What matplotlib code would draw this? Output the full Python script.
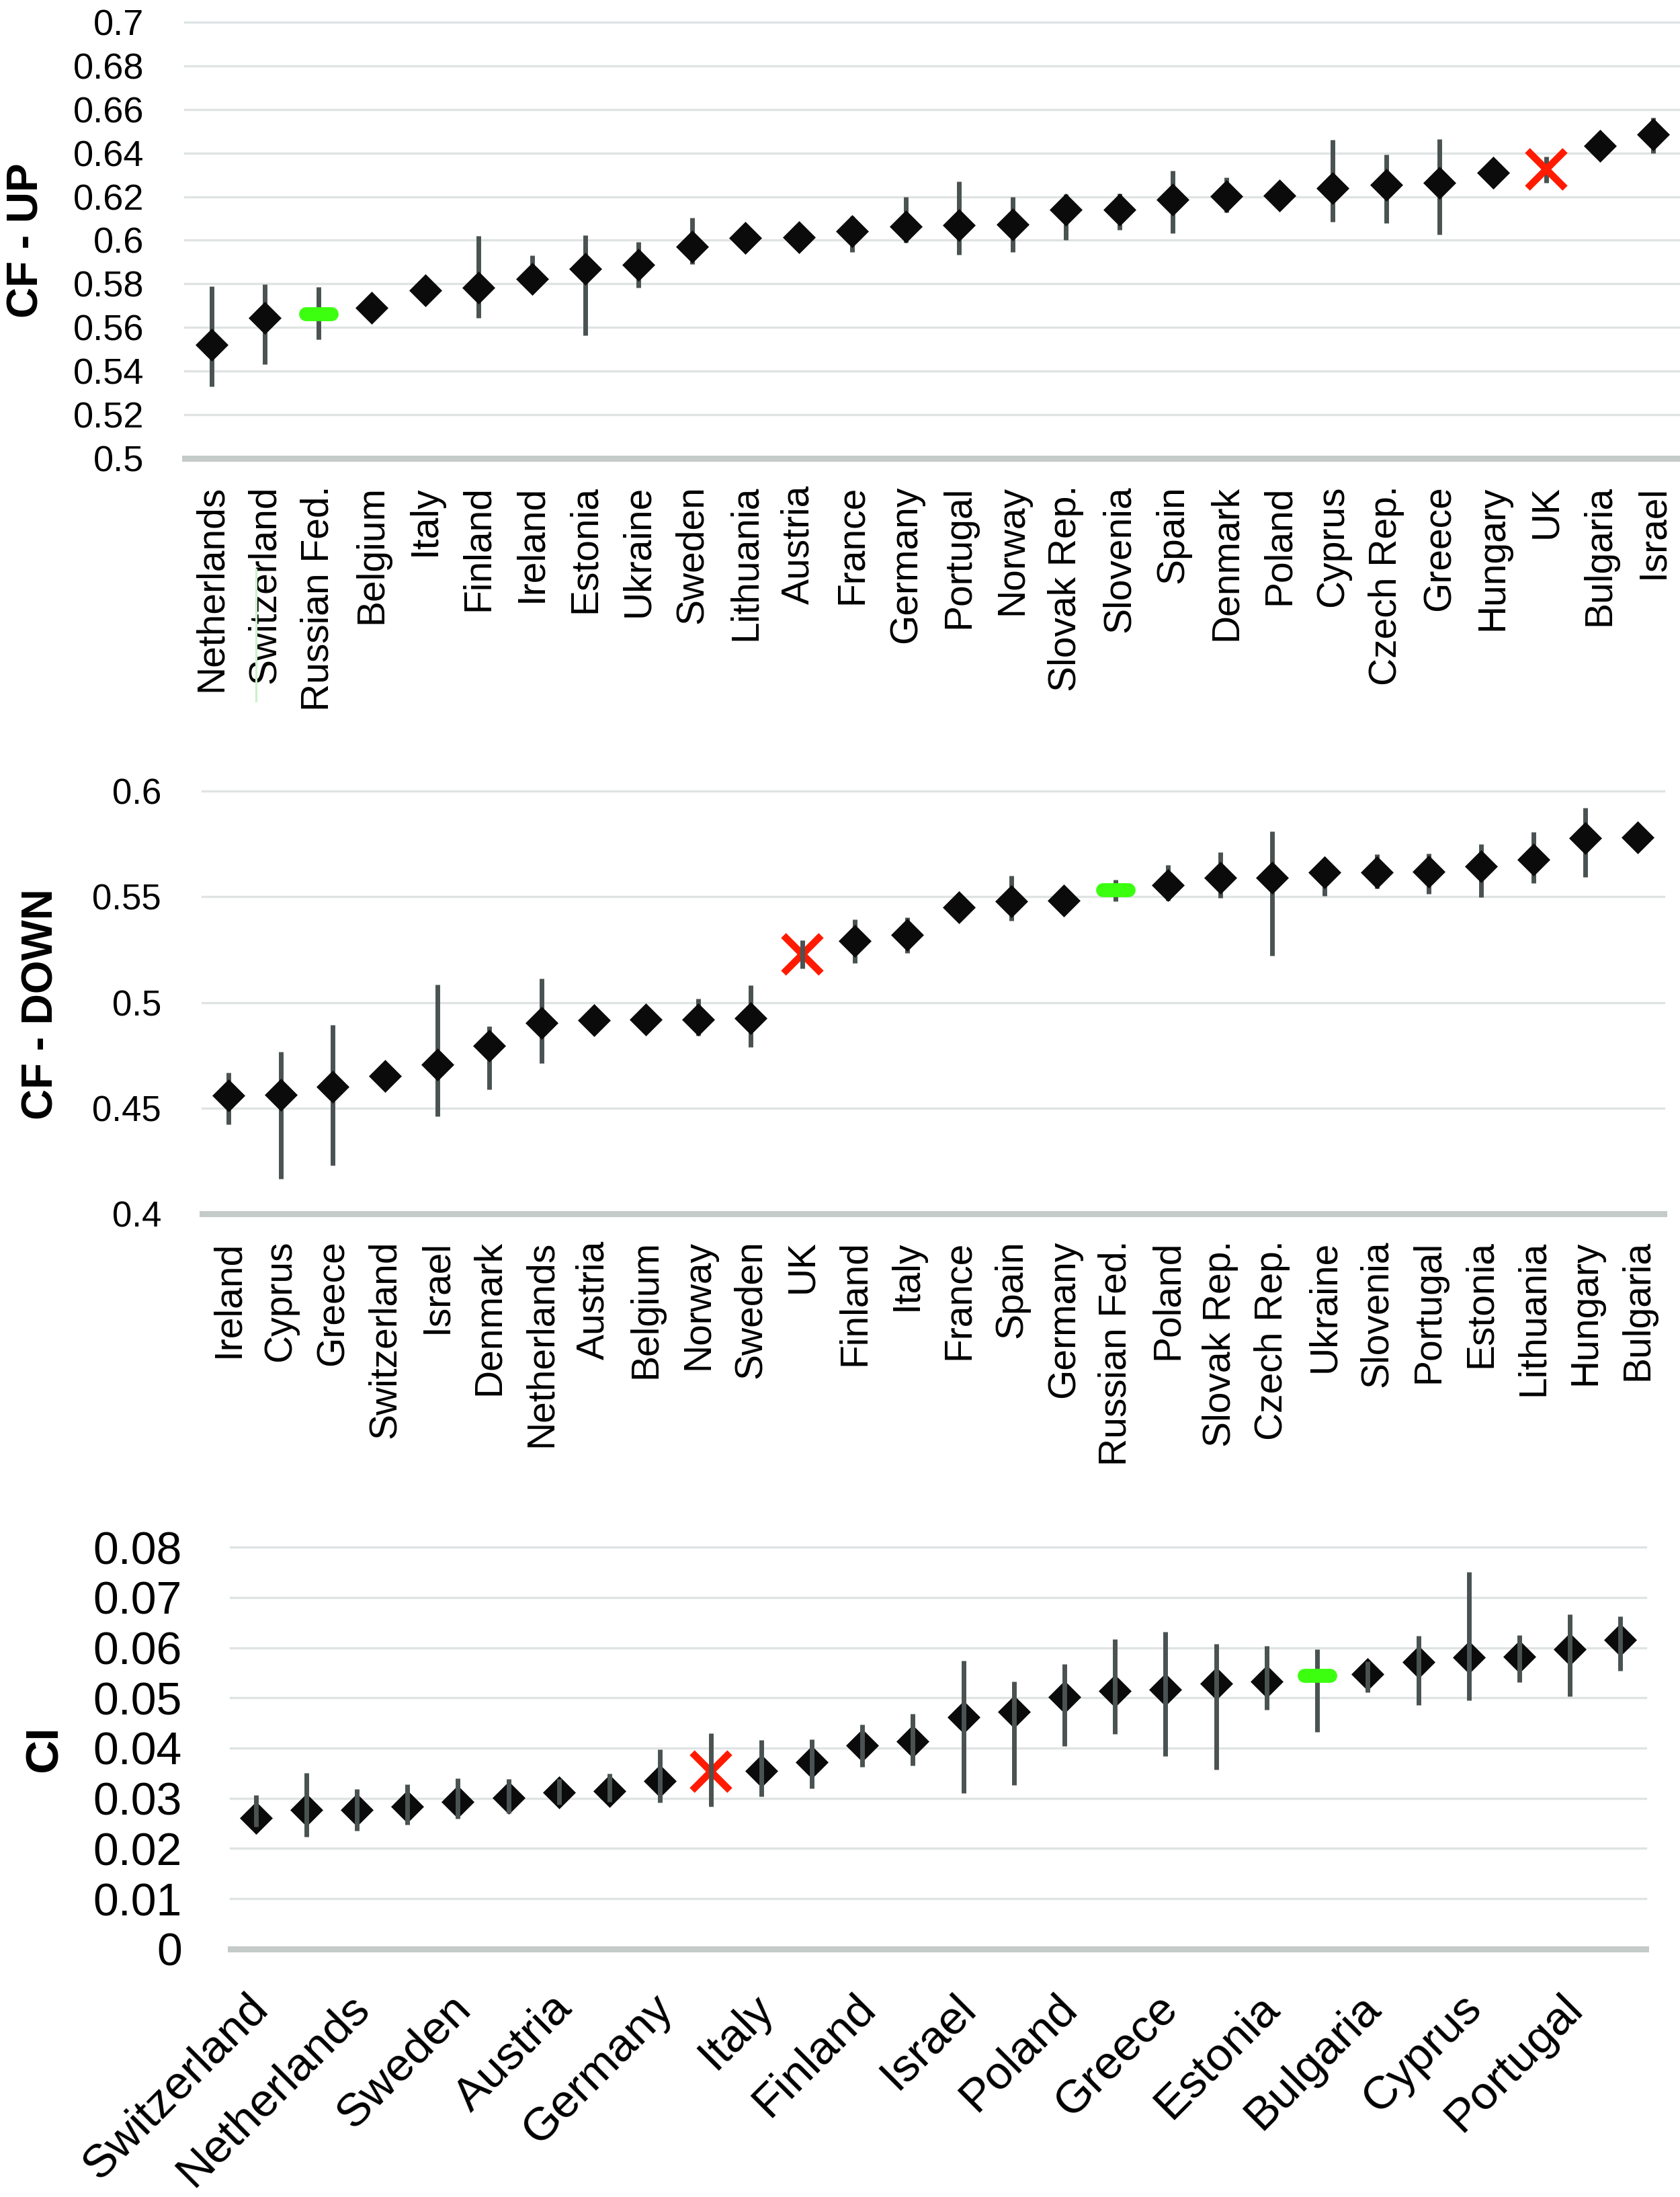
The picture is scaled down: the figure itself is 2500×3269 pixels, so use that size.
import matplotlib
matplotlib.use('Agg')
import matplotlib.pyplot as plt
import matplotlib.transforms as mtransforms
from matplotlib.markers import MarkerStyle
import numpy as np

plt.rcParams['font.family'] = ['Liberation Sans', 'DejaVu Sans']

# ---------------- data ----------------
up_countries = ['Netherlands', 'Switzerland', 'Russian Fed.', 'Belgium', 'Italy', 'Finland', 'Ireland',
                'Estonia', 'Ukraine', 'Sweden', 'Lithuania', 'Austria', 'France', 'Germany', 'Portugal',
                'Norway', 'Slovak Rep.', 'Slovenia', 'Spain', 'Denmark', 'Poland', 'Cyprus', 'Czech Rep.',
                'Greece', 'Hungary', 'UK', 'Bulgaria', 'Israel']
up_values = [0.552, 0.5644, 0.5663, 0.569, 0.5769, 0.5783, 0.5824, 0.5868, 0.5888, 0.5972, 0.601, 0.6014,
             0.6041, 0.6062, 0.607, 0.6072, 0.6139, 0.614, 0.6186, 0.6203, 0.6205, 0.624, 0.6254, 0.6262,
             0.631, 0.6324, 0.6432, 0.6484]
up_high = [0.579, 0.5797, 0.5786, 0.572, 0.580, 0.602, 0.593, 0.6024, 0.5992, 0.6102, 0.604, 0.6044,
           0.611, 0.620, 0.627, 0.620, 0.6211, 0.6214, 0.632, 0.6288, 0.6235, 0.6462, 0.6394, 0.6463,
           0.634, 0.6385, 0.6462, 0.6562]
up_low = [0.533, 0.5432, 0.5545, 0.566, 0.574, 0.5644, 0.577, 0.5564, 0.5782, 0.5892, 0.598, 0.5984,
          0.5945, 0.599, 0.5933, 0.5946, 0.600, 0.6048, 0.6031, 0.6129, 0.6175, 0.6086, 0.608, 0.6025,
          0.628, 0.6263, 0.6402, 0.640]
up_yticks = [0.5, 0.52, 0.54, 0.56, 0.58, 0.6, 0.62, 0.64, 0.66, 0.68, 0.7]

down_countries = ['Ireland', 'Cyprus', 'Greece', 'Switzerland', 'Israel', 'Denmark', 'Netherlands',
                  'Austria', 'Belgium', 'Norway', 'Sweden', 'UK', 'Finland', 'Italy', 'France', 'Spain',
                  'Germany', 'Russian Fed.', 'Poland', 'Slovak Rep.', 'Czech Rep.', 'Ukraine', 'Slovenia',
                  'Portugal', 'Estonia', 'Lithuania', 'Hungary', 'Bulgaria']
down_values = [0.456, 0.4565, 0.4603, 0.4654, 0.4706, 0.4796, 0.4905, 0.4916, 0.4919, 0.4919, 0.4926,
               0.5228, 0.5291, 0.532, 0.5452, 0.5478, 0.5481, 0.5533, 0.5557, 0.5589, 0.5589, 0.5616,
               0.5616, 0.562, 0.5645, 0.5675, 0.5779, 0.5782]
down_high = [0.4668, 0.4766, 0.4895, 0.469, 0.5085, 0.4889, 0.5115, 0.495, 0.4955, 0.5017, 0.5081,
             0.5295, 0.5394, 0.5404, 0.549, 0.5599, 0.552, 0.558, 0.565, 0.5711, 0.581, 0.5655,
             0.5702, 0.5706, 0.5748, 0.5806, 0.5922, 0.582]
down_low = [0.4423, 0.4166, 0.4231, 0.462, 0.4461, 0.4589, 0.4713, 0.488, 0.4885, 0.4844, 0.4789,
            0.5163, 0.5186, 0.5235, 0.5415, 0.5387, 0.5445, 0.548, 0.5484, 0.5494, 0.5223, 0.5506,
            0.5539, 0.5515, 0.5498, 0.5566, 0.5593, 0.5745]
down_yticks = [0.4, 0.45, 0.5, 0.55, 0.6]

ci_countries = ['Switzerland', 'Ireland', 'Netherlands', 'Belgium', 'Sweden', 'Norway', 'Austria',
                'Denmark', 'Germany', 'UK', 'Italy', 'France', 'Finland', 'Spain', 'Israel', 'Slovenia',
                'Poland', 'Slovak Rep.', 'Greece', 'Czech Rep.', 'Estonia', 'Russian Fed.', 'Bulgaria',
                'Ukraine', 'Cyprus', 'Lithuania', 'Portugal', 'Hungary']
ci_values = [0.0261, 0.0277, 0.0277, 0.0284, 0.0293, 0.0301, 0.0311, 0.0314, 0.0334, 0.0353, 0.0355,
             0.0372, 0.0405, 0.0414, 0.0461, 0.0472, 0.0502, 0.0514, 0.0516, 0.0528, 0.0533, 0.0544,
             0.0547, 0.0571, 0.058, 0.0582, 0.0597, 0.0615]
ci_high = [0.0306, 0.0351, 0.0319, 0.0328, 0.034, 0.0338, 0.0339, 0.0349, 0.0397, 0.043, 0.0416,
           0.0417, 0.0447, 0.0468, 0.0574, 0.0532, 0.0567, 0.0617, 0.0632, 0.0608, 0.0604, 0.0596,
           0.0573, 0.0623, 0.075, 0.0625, 0.0666, 0.0662]
ci_low = [0.0243, 0.0223, 0.0235, 0.0247, 0.0259, 0.027, 0.0287, 0.0293, 0.0291, 0.0284, 0.0304,
          0.032, 0.0363, 0.0365, 0.031, 0.0327, 0.0404, 0.0428, 0.0384, 0.0357, 0.0476, 0.0432,
          0.0511, 0.0486, 0.0495, 0.0531, 0.0503, 0.0554]
ci_yticks = [0, 0.01, 0.02, 0.03, 0.04, 0.05, 0.06, 0.07, 0.08]

RED_COUNTRY = 'UK'
GREEN_COUNTRY = 'Russian Fed.'

# ---------------- styling ----------------
DIAMOND_C = '#0b0b0b'
BAR_C = '#4a5252'
GRID_C = '#dfe4e3'
AXIS_C = '#c4cbc8'
RED_C = '#ff1a00'
GREEN_C = '#3cff10'


def fmt(v):
    return ('%.3f' % v).rstrip('0').rstrip('.') if v != 0 else '0'


def draw(ax, names, vals, hi, lo, yticks, bar_z, x_z, ytick_fs, ypad):
    x = np.arange(len(names))
    vals = np.asarray(vals); hi = np.asarray(hi); lo = np.asarray(lo)
    names_arr = np.asarray(names)
    red = names_arr == RED_COUNTRY
    green = names_arr == GREEN_COUNTRY
    dia = ~(red | green)

    ax.vlines(x, lo, hi, colors=BAR_C, lw=5, zorder=bar_z)
    ax.plot(x[dia], vals[dia], ls='none', marker='D', ms=24, color=DIAMOND_C,
            mec=DIAMOND_C, mew=0.5, zorder=3)
    ax.plot(x[red], vals[red], ls='none', marker='x', ms=40, mew=7.5, color=RED_C, zorder=x_z)
    ax.plot(x[green], vals[green], ls='none', marker=MarkerStyle('_', capstyle='round'),
            ms=27, mew=15, color=GREEN_C, zorder=5)

    ax.set_xlim(-0.5, len(names) - 0.5)
    ax.set_ylim(yticks[0], yticks[-1])
    ax.set_yticks(yticks)
    ax.set_yticklabels([fmt(v) for v in yticks])
    ax.yaxis.grid(True, color=GRID_C, lw=2.4)
    for gl in ax.get_ygridlines():
        gl.set_clip_on(False)
    ax.set_axisbelow(True)
    for s in ['top', 'left', 'right']:
        ax.spines[s].set_visible(False)
    ax.spines['bottom'].set_color(AXIS_C)
    ax.spines['bottom'].set_linewidth(6.5)
    ax.spines['bottom'].set_zorder(1.5)
    ax.tick_params(axis='y', length=0, pad=ypad, labelsize=ytick_fs, labelcolor='black')
    ax.tick_params(axis='x', length=0)


fig = plt.figure(figsize=(25, 32.69), dpi=100)

# ---- panel 1: CF - UP ----
ax1 = fig.add_axes([0.110, 0.7914, 0.890, 0.1985])
draw(ax1, up_countries, up_values, up_high, up_low, up_yticks, bar_z=2, x_z=4, ytick_fs=39, ypad=44)
ax1.set_xticks(np.arange(len(up_countries)))
ax1.set_xticklabels(up_countries, rotation=90, fontsize=41, va='top', ha='center')
ax1.tick_params(axis='x', pad=29)
fig.text(0.016, 0.8905, 'CF - UP', rotation=90, ha='center', va='center', fontsize=46,
         fontweight='bold')
# faint green stroke beside the Switzerland label
sw = up_countries.index('Switzerland')
trans = mtransforms.blended_transform_factory(ax1.transData, ax1.transAxes)
ax1.plot([sw - 0.17, sw - 0.17], [-0.255, -0.557], color='#c9f3c9', lw=2.2,
         transform=trans, clip_on=False)

# ---- panel 2: CF - DOWN ----
ax2 = fig.add_axes([0.1204, 0.4474, 0.870, 0.1925])
draw(ax2, down_countries, down_values, down_high, down_low, down_yticks, bar_z=2, x_z=1.8,
     ytick_fs=38, ypad=44)
ax2.set_xticks(np.arange(len(down_countries)))
ax2.set_xticklabels(down_countries, rotation=90, fontsize=41, va='top', ha='center')
ax2.tick_params(axis='x', pad=28)
fig.text(0.0248, 0.543, 'CF - DOWN', rotation=90, ha='center', va='center', fontsize=46,
         fontweight='bold')

# ---- panel 3: CI ----
ax3 = fig.add_axes([0.1372, 0.1129, 0.8424, 0.1829])
draw(ax3, ci_countries, ci_values, ci_high, ci_low, ci_yticks, bar_z=4, x_z=3.5,
     ytick_fs=49, ypad=52)
shown = np.arange(0, len(ci_countries), 2)
ax3.set_xticks(shown)
ax3.set_xticklabels([ci_countries[i] for i in shown], rotation=45, fontsize=50,
                    ha='right', va='top', rotation_mode='anchor')
ax3.tick_params(axis='x', pad=40)
off = mtransforms.ScaledTranslation(-14 / 100, 0, fig.dpi_scale_trans)
for lab in ax3.get_xticklabels():
    lab.set_transform(lab.get_transform() + off)
fig.text(0.0268, 0.204, 'CI', rotation=90, ha='center', va='center', fontsize=50,
         fontweight='bold')

fig.savefig('out.png', dpi=100)
